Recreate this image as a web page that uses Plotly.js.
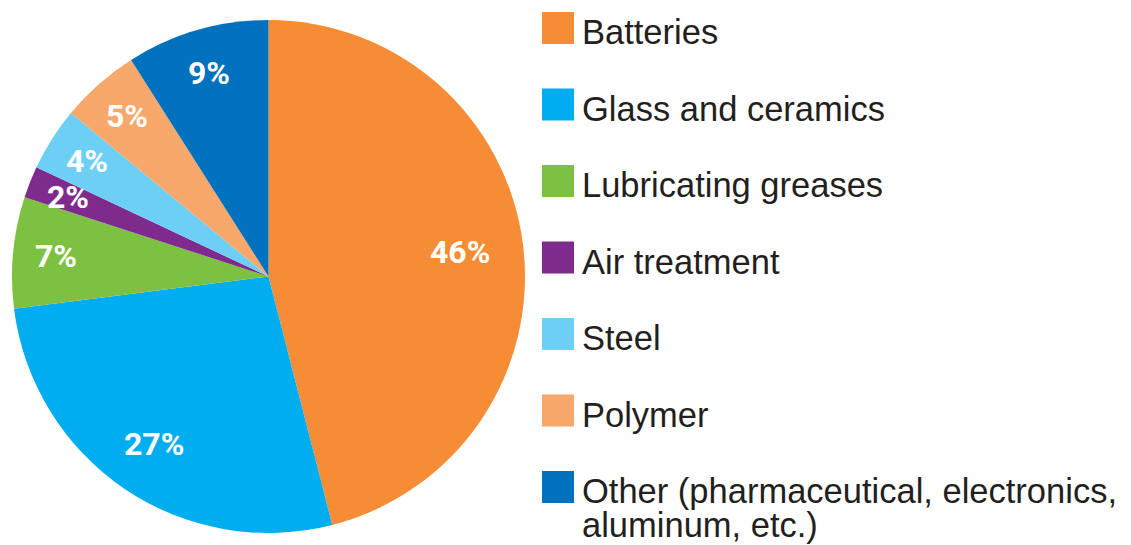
<!DOCTYPE html>
<html>
<head>
<meta charset="utf-8">
<script src="https://cdn.plot.ly/plotly-3.0.1.min.js"></script>
<style>
  html, body { margin: 0; padding: 0; background: #fff; }
  #chart { width: 1131px; height: 545px; }
</style>
</head>
<body>
<div id="chart"></div>
<script>
// Data
const categories = [
  'Batteries',
  'Glass and ceramics',
  'Lubricating greases',
  'Air treatment',
  'Steel',
  'Polymer',
  'Other (pharmaceutical, electronics,<br>aluminum, etc.)'
];
const shares = [46, 27, 7, 2, 4, 5, 9];
const sliceColors = ['#F68D36', '#00AEEF', '#7DC142', '#7F2B8E', '#6DCFF6', '#F7A86A', '#0071BC'];

const W = 1131, H = 545;

// Pie box (pixels)
const pieLeft = 12, pieTop = 20, pieSize = 513;
const cx = pieLeft + pieSize / 2;
const cy = pieTop + pieSize / 2;
const R = pieSize / 2;

const px = x => x / W;
const py = y => 1 - y / H;

// Percent labels at the middle angle of each slice, bigger slices a bit further in
const total = shares.reduce((a, b) => a + b, 0);
let cum = 0;
const pctLabels = shares.map(v => {
  const frac = v / total;
  const mid = (cum + v / 2) / total * 2 * Math.PI;
  cum += v;
  const r = R * (0.845 - 0.2 * frac);
  return {
    x: px(cx + r * Math.sin(mid)),
    y: py(cy - r * Math.cos(mid)),
    xref: 'paper', yref: 'paper',
    text: v + '%',
    showarrow: false,
    xanchor: 'center', yanchor: 'middle',
    font: { family: 'Roboto, Arial, sans-serif', size: 32, color: '#ffffff', weight: 'bold' }
  };
});

// Custom legend: big squares + text
const legTop = 12, legStep = 76.5, sq = 32, legX = 542, textX = 580, lineGap = 34;
const legendShapes = categories.map((c, i) => ({
  type: 'rect', xref: 'paper', yref: 'paper',
  x0: px(legX), x1: px(legX + sq),
  y0: py(legTop + i * legStep), y1: py(legTop + i * legStep + sq),
  fillcolor: sliceColors[i], line: { width: 0 }
}));
const legendText = [];
categories.forEach((c, i) => {
  c.split('<br>').forEach((line, j) => {
    legendText.push({
      x: px(textX), y: py(legTop + i * legStep + j * lineGap - 1),
      xref: 'paper', yref: 'paper',
      text: line, showarrow: false,
      xanchor: 'left', yanchor: 'top', align: 'left',
      font: { family: 'Arial, "Liberation Sans", sans-serif', size: 34.5, color: '#231F20' }
    });
  });
});

const trace = {
  type: 'pie',
  labels: categories,
  values: shares,
  sort: false,
  direction: 'clockwise',
  rotation: 0,
  textinfo: 'none',
  hoverinfo: 'label+percent',
  marker: { colors: sliceColors, line: { width: 0 } },
  domain: { x: [px(pieLeft), px(pieLeft + pieSize)], y: [py(pieTop + pieSize), py(pieTop)] }
};

const layout = {
  width: W,
  height: H,
  margin: { t: 0, l: 0, r: 0, b: 0 },
  showlegend: false,
  paper_bgcolor: '#ffffff',
  plot_bgcolor: '#ffffff',
  shapes: legendShapes,
  annotations: pctLabels.concat(legendText)
};

Plotly.newPlot('chart', [trace], layout, { displayModeBar: false, staticPlot: true });
</script>
</body>
</html>
